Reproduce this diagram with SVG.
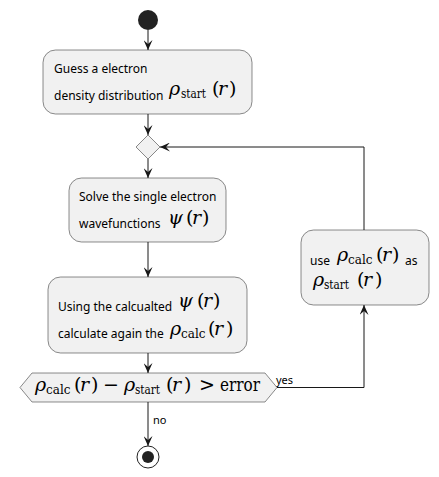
<svg xmlns="http://www.w3.org/2000/svg" width="439" height="477" viewBox="0 0 439 477">
<defs>
<style>
.bg{fill:#FFFFFF}
.box{fill:#F1F1F1;stroke:#181818;stroke-width:0.5}
.ln{fill:none;stroke:#181818;stroke-width:1}
.t{font-family:"Noto Sans","Open Sans","DejaVu Sans",sans-serif;font-size:12px;fill:#000000}
.lbl{font-family:"Noto Sans","Open Sans","DejaVu Sans",sans-serif;font-size:11px;fill:#000000}
.m{font-family:"DejaVu Serif","Liberation Serif","Times New Roman",serif;font-size:19px;fill:#000000}
.i{font-style:italic}
.s{font-size:12px}
</style>
<marker id="ah" viewBox="0 0 10 9" refX="10" refY="4.5" markerWidth="10" markerHeight="9" markerUnits="userSpaceOnUse" orient="auto">
<path d="M0,0 L10,4.5 L0,9 L4,4.5 Z" fill="#181818"/>
</marker>
</defs>
<rect class="bg" x="0" y="0" width="439" height="477"/>

<g id="connectors">
<line class="ln" x1="148" y1="30" x2="148" y2="50" marker-end="url(#ah)"/>
<line class="ln" x1="148" y1="114" x2="148" y2="135" marker-end="url(#ah)"/>
<line class="ln" x1="148" y1="159" x2="148" y2="178" marker-end="url(#ah)"/>
<line class="ln" x1="148" y1="242" x2="148" y2="277" marker-end="url(#ah)"/>
<line class="ln" x1="148" y1="353" x2="148" y2="373" marker-end="url(#ah)"/>
<line class="ln" x1="148" y1="402" x2="148" y2="446" marker-end="url(#ah)"/>
<text class="lbl" x="153" y="424">no</text>
<polyline class="ln" points="277,387.5 364,387.5 364,305" marker-end="url(#ah)"/>
<text class="lbl" x="276" y="384">yes</text>
<polyline class="ln" points="364,230 364,147 160,147" marker-end="url(#ah)"/>
</g>

<g id="start">
<circle cx="148" cy="20" r="10" fill="#222222"/>
</g>

<g id="guess">
<rect class="box" x="43" y="50" width="209" height="64" rx="12.5" ry="12.5"/>
<text class="t" x="54" y="73">Guess a electron</text>
<text class="t" x="54" y="100">density distribution</text>
<text class="m" y="95"><tspan class="i" x="169">ρ</tspan><tspan class="s" x="181" y="98" textLength="25" lengthAdjust="spacingAndGlyphs">start</tspan><tspan x="212" y="95">(</tspan><tspan class="i" x="218">r</tspan><tspan x="229">)</tspan></text>
</g>

<g id="merge">
<polygon class="box" points="148,135 160,147 148,159 136,147"/>
</g>

<g id="solve">
<rect class="box" x="69" y="178" width="157" height="64" rx="12.5" ry="12.5"/>
<text class="t" x="79" y="201">Solve the single electron</text>
<text class="t" x="79" y="228">wavefunctions</text>
<text class="m" y="224"><tspan class="i" x="168">ψ</tspan><tspan x="186">(</tspan><tspan class="i" x="192">r</tspan><tspan x="202">)</tspan></text>
</g>

<g id="calc">
<rect class="box" x="48" y="277" width="199" height="76" rx="12.5" ry="12.5"/>
<text class="t" x="58" y="311">Using the calcualted</text>
<text class="m" y="307"><tspan class="i" x="178">ψ</tspan><tspan x="197">(</tspan><tspan class="i" x="203">r</tspan><tspan x="213">)</tspan></text>
<text class="t" x="58" y="338">calculate again the</text>
<text class="m" y="335"><tspan class="i" x="170">ρ</tspan><tspan class="s" x="181" y="338">calc</tspan><tspan x="208" y="335">(</tspan><tspan class="i" x="214">r</tspan><tspan x="226">)</tspan></text>
</g>

<g id="use">
<rect class="box" x="301" y="230" width="128" height="75" rx="12.5" ry="12.5"/>
<text class="t" x="310" y="265">use</text>
<text class="m" y="261"><tspan class="i" x="337">ρ</tspan><tspan class="s" x="348" y="264">calc</tspan><tspan x="376" y="261">(</tspan><tspan class="i" x="382">r</tspan><tspan x="392">)</tspan></text>
<text class="t" x="405" y="265">as</text>
<text class="m" y="286"><tspan class="i" x="313">ρ</tspan><tspan class="s" x="324" y="289" textLength="25" lengthAdjust="spacingAndGlyphs">start</tspan><tspan x="357" y="286">(</tspan><tspan class="i" x="363">r</tspan><tspan x="375">)</tspan></text>
</g>

<g id="check">
<polygon class="box" points="20,387.5 32,373 265,373 277,387.5 265,402 32,402"/>
<text class="m" y="391"><tspan class="i" x="35">ρ</tspan><tspan class="s" x="46" y="394">calc</tspan><tspan x="74" y="391">(</tspan><tspan class="i" x="80">r</tspan><tspan x="91">)</tspan><tspan x="103">−</tspan><tspan class="i" x="124">ρ</tspan><tspan class="s" x="135" y="394" textLength="25" lengthAdjust="spacingAndGlyphs">start</tspan><tspan x="166" y="391">(</tspan><tspan class="i" x="172">r</tspan><tspan x="184">)</tspan><tspan x="199">&gt;</tspan><tspan x="220" textLength="40" lengthAdjust="spacingAndGlyphs">error</tspan></text>
</g>

<g id="end">
<circle cx="148" cy="457" r="11" fill="none" stroke="#222222" stroke-width="1"/>
<circle cx="148" cy="457" r="6" fill="#222222"/>
</g>
</svg>
